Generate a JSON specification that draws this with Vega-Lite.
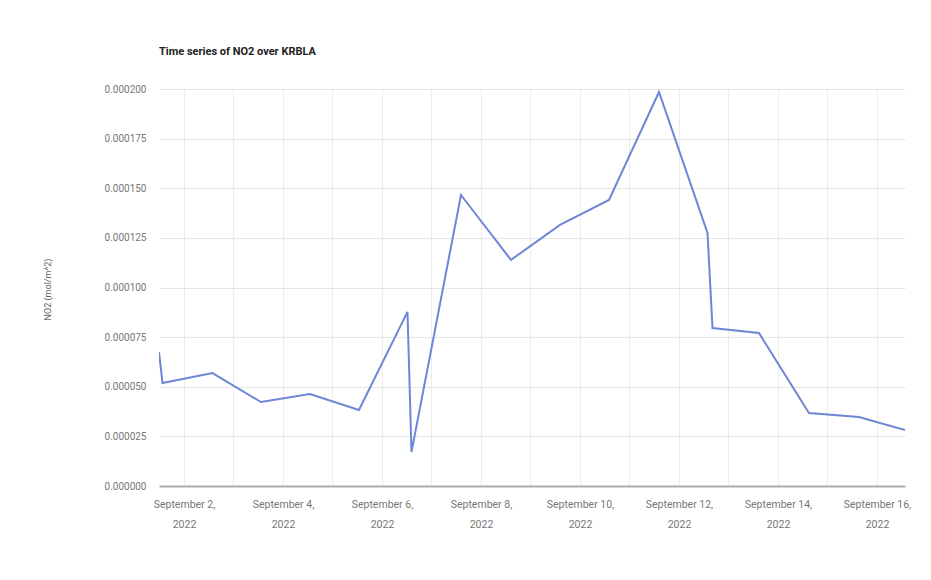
{
  "$schema": "https://vega.github.io/schema/vega-lite/v6.json",
  "autosize": {"type": "none"},
  "width": 746,
  "height": 397,
  "padding": {"left": 159, "top": 89, "right": 26, "bottom": 94},
  "background": "white",
  "title": {
    "text": "Time series of NO2 over KRBLA",
    "anchor": "start",
    "frame": "group",
    "offset": 27,
    "fontSize": 11,
    "font": "Roboto",
    "fontWeight": "bold",
    "color": "#222222"
  },
  "config": {
    "view": {"stroke": null},
    "font": "Roboto"
  },
  "data": {
    "values": [
      {"time": "2022-09-01T11:53:00", "no2": 0.0000675},
      {"time": "2022-09-01T13:35:00", "no2": 0.0000519},
      {"time": "2022-09-02T13:49:00", "no2": 0.0000569},
      {"time": "2022-09-03T13:20:00", "no2": 0.0000423},
      {"time": "2022-09-04T13:05:00", "no2": 0.0000463},
      {"time": "2022-09-05T12:50:00", "no2": 0.0000383},
      {"time": "2022-09-06T12:22:00", "no2": 0.0000877},
      {"time": "2022-09-06T14:18:00", "no2": 0.0000171},
      {"time": "2022-09-07T14:18:00", "no2": 0.0001466},
      {"time": "2022-09-08T14:33:00", "no2": 0.0001139},
      {"time": "2022-09-09T14:18:00", "no2": 0.0001315},
      {"time": "2022-09-10T14:04:00", "no2": 0.0001441},
      {"time": "2022-09-11T14:18:00", "no2": 0.0001985},
      {"time": "2022-09-12T13:49:00", "no2": 0.0001275},
      {"time": "2022-09-12T16:15:00", "no2": 0.0000796},
      {"time": "2022-09-13T14:47:00", "no2": 0.0000771},
      {"time": "2022-09-14T15:01:00", "no2": 0.0000368},
      {"time": "2022-09-15T15:16:00", "no2": 0.0000348},
      {"time": "2022-09-16T13:35:00", "no2": 0.0000282}
    ]
  },
  "mark": {"type": "line", "color": "#6f86d6", "strokeWidth": 2, "clip": true},
  "encoding": {
    "x": {
      "field": "time",
      "type": "temporal",
      "scale": {"nice": false},
      "axis": {
        "title": null,
        "values": [
          "2022-09-02T00:00:00", "2022-09-03T00:00:00", "2022-09-04T00:00:00",
          "2022-09-05T00:00:00", "2022-09-06T00:00:00", "2022-09-07T00:00:00",
          "2022-09-08T00:00:00", "2022-09-09T00:00:00", "2022-09-10T00:00:00",
          "2022-09-11T00:00:00", "2022-09-12T00:00:00", "2022-09-13T00:00:00",
          "2022-09-14T00:00:00", "2022-09-15T00:00:00", "2022-09-16T00:00:00"
        ],
        "labelExpr": "date(datum.value) % 2 == 0 ? [timeFormat(datum.value, '%B %-d,'), timeFormat(datum.value, '%Y')] : ''",
        "labelFontSize": 10.5,
        "labelColor": "#777777",
        "labelLineHeight": 20,
        "labelPadding": 13,
        "labelOverlap": false,
        "labelFlush": false,
        "ticks": false,
        "grid": true,
        "gridColor": "#ececec",
        "domain": true,
        "domainColor": "#aaaaaa",
        "domainWidth": 2
      }
    },
    "y": {
      "field": "no2",
      "type": "quantitative",
      "scale": {"domain": [0, 0.0002], "nice": false},
      "axis": {
        "title": "NO2 (mol/m^2)",
        "titleFontSize": 9,
        "titleFontWeight": "normal",
        "titleColor": "#666666",
        "titleX": -107,
        "titleY": 200,
        "values": [0, 0.000025, 0.00005, 0.000075, 0.0001, 0.000125, 0.00015, 0.000175, 0.0002],
        "format": ".6f",
        "labelFontSize": 10,
        "labelColor": "#777777",
        "labelPadding": 13,
        "ticks": false,
        "domain": false,
        "grid": true,
        "gridColor": "#e6e6e6"
      }
    }
  }
}
